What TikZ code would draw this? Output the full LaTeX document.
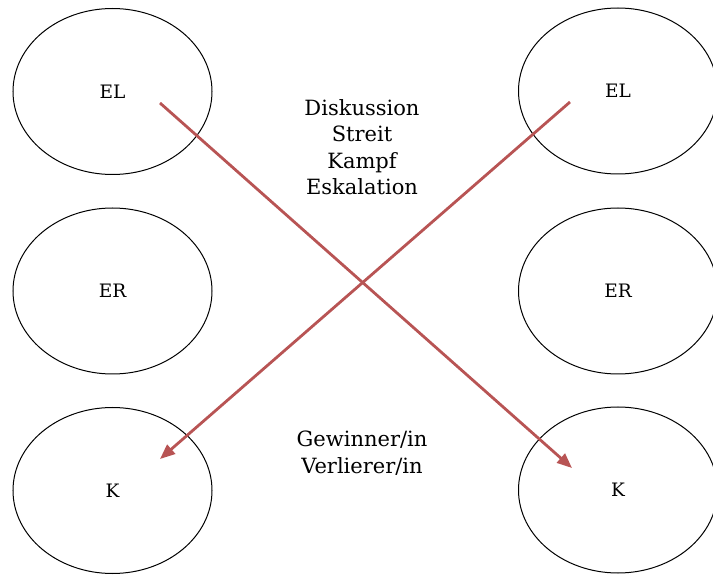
\documentclass[tikz,border=0pt]{standalone}
\usepackage{fontspec}
\setmainfont{DejaVu Serif}
\usetikzlibrary{shapes.geometric,arrows.meta}
\definecolor{arrowred}{RGB}{184,84,84}
\begin{document}
\begin{tikzpicture}[
  x=1pt, y=-1pt,
  role/.style={ellipse, draw, line width=1pt, minimum width=199pt, minimum height=166pt, inner sep=0pt, font=\fontsize{18.5}{20}\selectfont},
  phase/.style={align=center, inner sep=0pt, font=\fontsize{21}{26.5}\selectfont},
  cross/.style={draw=arrowred, line width=2.8pt, -{Triangle[length=15pt,width=12pt]}}
]
\useasboundingbox (0,0) rectangle (713,577);
% left side
\node[role] (elL) at (112.5,91.5) {EL};
\node[role] (erL) at (112.5,291) {ER};
\node[role] (kL) at (112.5,490.5) {K};
% right side
\node[role] (elR) at (618,91) {EL};
\node[role] (erR) at (618,291) {ER};
\node[role] (kR) at (618,490) {K};
% texts in between
\node[phase, anchor=north] (escal) at (362,99) {Diskussion\\Streit\\Kampf\\Eskalation};
\node[phase, anchor=north] (result) at (362,431) {Gewinner/in\\Verlierer/in};
% crossing arrows
\coordinate (startL) at (160,103);
\coordinate (tipR) at (572,468);
\coordinate (startR) at (570,102);
\coordinate (tipL) at (160,459);
\draw[cross] (startL) -- (tipR);
\draw[cross] (startR) -- (tipL);
\end{tikzpicture}
\end{document}
